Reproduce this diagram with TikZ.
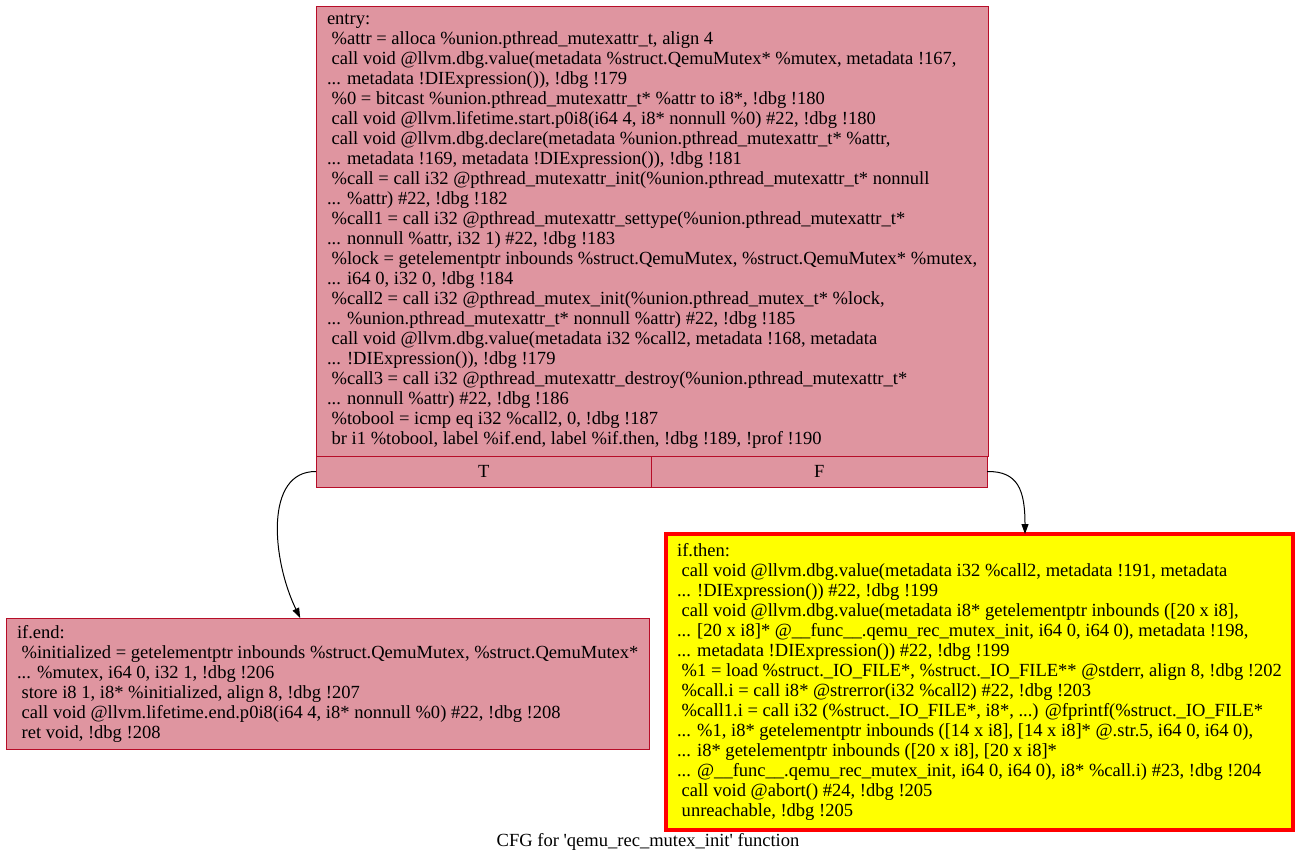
\documentclass[tikz,border=0pt]{standalone}
\usepackage{fontspec}
\setmainfont{Liberation Serif}
\usetikzlibrary{arrows.meta}
\definecolor{blkborder}{HTML}{B70D28}
\definecolor{hotborder}{HTML}{FF0000}
\definecolor{hotfill}{HTML}{FFFF00}
\newcommand{\px}{*0.75pt}
\newcommand{\cfgfont}{\fontsize{13.9}{15}\selectfont}
\tikzset{
  blk/.style={draw=blkborder, fill=blkborder!44!white, line width=1\px,
    anchor=north west, align=left, inner xsep=11\px, inner ysep=0pt,
    outer sep=0pt, font=\cfgfont},
  hotblk/.style={blk, draw=hotborder, fill=hotfill, line width=4\px},
  cell/.style={blk, align=center, minimum width=335.5\px, minimum height=31\px},
  edge/.style={-{Triangle[length=10\px,width=7\px]}, line width=1\px}
}
\begin{document}
\begin{tikzpicture}[x=0.75pt,y=-0.75pt]
\useasboundingbox (0,0) rectangle (1296,864);
% entry block
\node[blk, minimum width=671\px, minimum height=450\px] (entry) at (316,6) {entry:\\
\ \%attr = alloca \%union.pthread\_mutexattr\_t, align 4\\
\ call void @llvm.dbg.value(metadata \%struct.QemuMutex* \%mutex, metadata !167,\\
... metadata !DIExpression()), !dbg !179\\
\ \%0 = bitcast \%union.pthread\_mutexattr\_t* \%attr to i8*, !dbg !180\\
\ call void @llvm.lifetime.start.p0i8(i64 4, i8* nonnull \%0) \#22, !dbg !180\\
\ call void @llvm.dbg.declare(metadata \%union.pthread\_mutexattr\_t* \%attr,\\
... metadata !169, metadata !DIExpression()), !dbg !181\\
\ \%call = call i32 @pthread\_mutexattr\_init(\%union.pthread\_mutexattr\_t* nonnull\\
... \%attr) \#22, !dbg !182\\
\ \%call1 = call i32 @pthread\_mutexattr\_settype(\%union.pthread\_mutexattr\_t*\\
... nonnull \%attr, i32 1) \#22, !dbg !183\\
\ \%lock = getelementptr inbounds \%struct.QemuMutex, \%struct.QemuMutex* \%mutex,\\
... i64 0, i32 0, !dbg !184\\
\ \%call2 = call i32 @pthread\_mutex\_init(\%union.pthread\_mutex\_t* \%lock,\\
... \%union.pthread\_mutexattr\_t* nonnull \%attr) \#22, !dbg !185\\
\ call void @llvm.dbg.value(metadata i32 \%call2, metadata !168, metadata\\
... !DIExpression()), !dbg !179\\
\ \%call3 = call i32 @pthread\_mutexattr\_destroy(\%union.pthread\_mutexattr\_t*\\
... nonnull \%attr) \#22, !dbg !186\\
\ \%tobool = icmp eq i32 \%call2, 0, !dbg !187\\
\ br i1 \%tobool, label \%if.end, label \%if.then, !dbg !189, !prof !190};
\node[cell] (entryT) at (entry.south west) {T};
\node[cell] (entryF) at (entryT.north east) {F};
% successors
\node[blk, minimum width=637\px, minimum height=131\px] (ifend) at (6,618) {if.end:\\
\ \%initialized = getelementptr inbounds \%struct.QemuMutex, \%struct.QemuMutex*\\
... \%mutex, i64 0, i32 1, !dbg !206\\
\ store i8 1, i8* \%initialized, align 8, !dbg !207\\
\ call void @llvm.lifetime.end.p0i8(i64 4, i8* nonnull \%0) \#22, !dbg !208\\
\ ret void, !dbg !208};
\node[hotblk, minimum width=627\px, minimum height=296\px] (ifthen) at (666,534) {if.then:\\
\ call void @llvm.dbg.value(metadata i32 \%call2, metadata !191, metadata\\
... !DIExpression()) \#22, !dbg !199\\
\ call void @llvm.dbg.value(metadata i8* getelementptr inbounds ([20 x i8],\\
... [20 x i8]* @\_\_func\_\_.qemu\_rec\_mutex\_init, i64 0, i64 0), metadata !198,\\
... metadata !DIExpression()) \#22, !dbg !199\\
\ \%1 = load \%struct.\_IO\_FILE*, \%struct.\_IO\_FILE** @stderr, align 8, !dbg !202\\
\ \%call.i = call i8* @strerror(i32 \%call2) \#22, !dbg !203\\
\ \%call1.i = call i32 (\%struct.\_IO\_FILE*, i8*, ...) @fprintf(\%struct.\_IO\_FILE*\\
... \%1, i8* getelementptr inbounds ([14 x i8], [14 x i8]* @.str.5, i64 0, i64 0),\\
... i8* getelementptr inbounds ([20 x i8], [20 x i8]*\\
... @\_\_func\_\_.qemu\_rec\_mutex\_init, i64 0, i64 0), i8* \%call.i) \#23, !dbg !204\\
\ call void @abort() \#24, !dbg !205\\
\ unreachable, !dbg !205};
% edges
\draw[edge] (entryT.west) .. controls (264,471) and (272,560) .. ([xshift=-27.5\px]ifend.north);
\draw[edge] (entryF.east) .. controls (1018,471) and (1025,490) .. ([xshift=45.5\px]ifthen.north);
% caption
\node[font=\cfgfont] (caption) at (648,842) {CFG for \textquotesingle qemu\_rec\_mutex\_init\textquotesingle\ function};
\end{tikzpicture}
\end{document}
